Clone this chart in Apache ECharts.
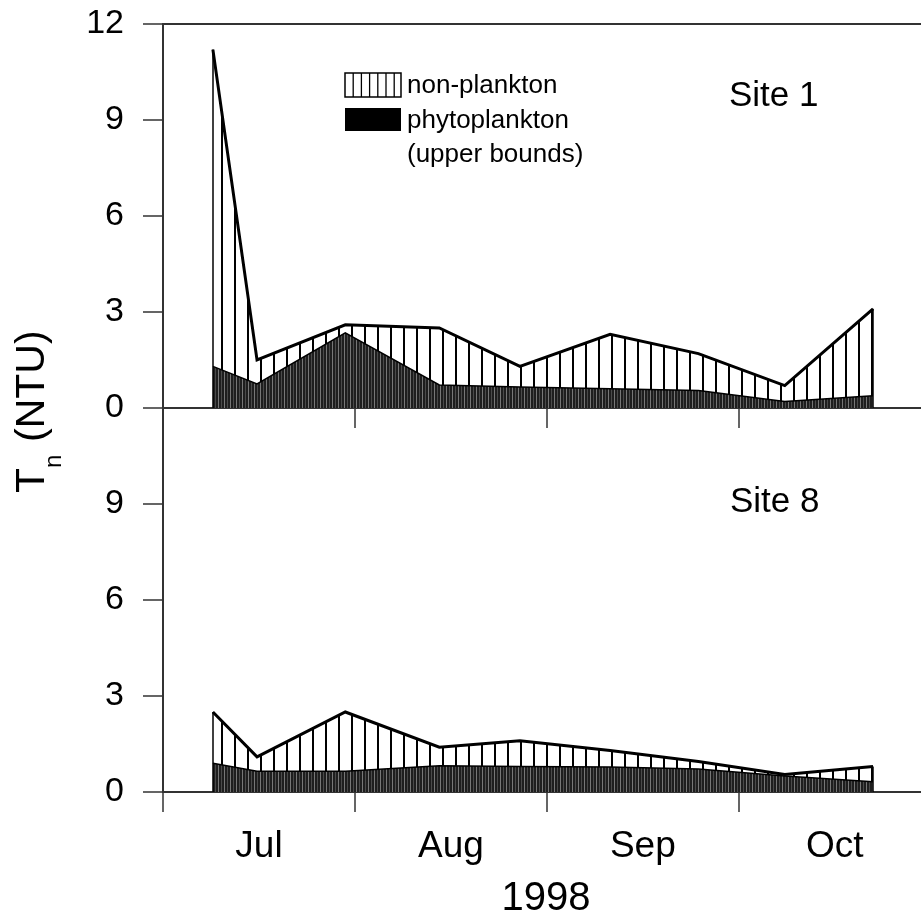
<!DOCTYPE html>
<html><head><meta charset="utf-8">
<script src="https://cdn.jsdelivr.net/npm/echarts@6/dist/echarts.min.js"></script>
<style>html,body{margin:0;padding:0;background:#fff}#c{width:921px;height:923px}</style>
</head><body><div id="c"></div>
<script>
// ---- data ----
const months = ['Jul', 'Aug', 'Sep', 'Oct'];
const monthStarts = [0, 1, 2, 3];  // tick positions, months since 1 Jul
const xMaxMonth = 3.95;            // axis runs from 1 Jul to ~29 Oct
const yMin = 0, yMax = 12, yStep = 3;
// sampling dates, expressed in months since 1 July 1998
const sampleMonth = [0.26, 0.49, 0.95, 1.44, 1.86, 2.33, 2.79, 3.24, 3.70];
const site1Total = [11.2, 1.5, 2.6, 2.5, 1.3, 2.3, 1.7, 0.7, 3.1];
const site1Phyto = [1.3, 0.75, 2.35, 0.72, 0.66, 0.6, 0.55, 0.2, 0.38];
const site8Total = [2.5, 1.1, 2.5, 1.4, 1.6, 1.3, 0.95, 0.55, 0.8];
const site8Phyto = [0.9, 0.65, 0.65, 0.82, 0.8, 0.78, 0.72, 0.5, 0.32];
const legendLabels = ['non-plankton', 'phytoplankton', '(upper bounds)'];
const panelLabels = ['Site 1', 'Site 8'];
const xTitle = '1998';

// ---- patterns ----
function hatchPattern() {
  const c = document.createElement('canvas'); c.width = 13; c.height = 8;
  const g = c.getContext('2d');
  g.fillStyle = '#fff'; g.fillRect(0, 0, 13, 8);
  g.fillStyle = '#000'; g.fillRect(0, 0, 2, 8);
  return c;
}
function darkPattern() {
  const c = document.createElement('canvas'); c.width = 6; c.height = 8;
  const g = c.getContext('2d');
  g.fillStyle = '#1e1e1e'; g.fillRect(0, 0, 6, 8);
  g.fillStyle = '#777'; g.fillRect(2, 0, 1, 8);
  g.fillStyle = '#4a4a4a'; g.fillRect(5, 0, 1, 8);
  return c;
}
const HATCH = { image: hatchPattern(), repeat: 'repeat' };
const DARK = { image: darkPattern(), repeat: 'repeat' };

const FONT = 'Liberation Sans, Arial, sans-serif';
const AX = '#333';

function pairs(xs, ys) { return xs.map((x, i) => [x, ys[i]]); }

function xAxisBottom(gi, showLabels) {
  return {
    type: 'value', gridIndex: gi, min: 0, max: xMaxMonth, interval: 1, position: 'bottom',
    axisLine: { show: true, onZero: false, lineStyle: { color: AX, width: 2 } },
    axisTick: { show: true, inside: false, length: 20, customValues: monthStarts, lineStyle: { color: AX, width: 1.5 } },
    axisLabel: {
      show: showLabels, margin: 36, fontSize: 37, color: '#000', fontFamily: FONT,
      customValues: monthStarts,
      padding: [0, 0, 0, 192], hideOverlap: false,
      formatter: v => (months[Math.round(v)] !== undefined && Math.abs(v - Math.round(v)) < 1e-6) ? months[Math.round(v)] : ''
    },
    splitLine: { show: false }
  };
}
function xAxisTop(gi) {
  return {
    type: 'value', gridIndex: gi, min: 0, max: xMaxMonth, position: 'top',
    axisLine: { show: true, onZero: false, lineStyle: { color: AX, width: 2 } },
    axisTick: { show: false }, axisLabel: { show: false }, splitLine: { show: false }
  };
}
function yAxis(gi, hideTop) {
  return {
    type: 'value', gridIndex: gi, min: yMin, max: yMax, interval: yStep,
    axisLine: { show: true, onZero: false, lineStyle: { color: AX, width: 2 } },
    axisTick: { show: true, inside: false, length: 20, lineStyle: { color: AX, width: 1.5 } },
    axisLabel: {
      margin: 39, fontSize: 34, color: '#000', fontFamily: FONT,
      formatter: v => (hideTop && v === yMax) ? '' : String(v)
    },
    splitLine: { show: false }
  };
}
function series(xi, yi, xs, ys, fill, lw, z, edges) {
  const s = {
    type: 'line', xAxisIndex: xi, yAxisIndex: yi, data: pairs(xs, ys),
    symbol: 'none', smooth: false, z: z, silent: true,
    lineStyle: { color: '#000', width: lw, join: 'miter' },
    areaStyle: { color: fill, opacity: 1, origin: 'start' }
  };
  if (edges) {
    const last = xs.length - 1;
    s.markLine = {
      silent: true, symbol: ['none', 'none'], label: { show: false },
      lineStyle: { color: '#000', width: 1.5, type: 'solid' },
      data: [
        [{ coord: [xs[0], 0] }, { coord: [xs[0], ys[0]] }],
        [{ coord: [xs[last], 0] }, { coord: [xs[last], ys[last]] }]
      ]
    };
  }
  return s;
}

const chart = echarts.init(document.getElementById('c'), null, { renderer: 'canvas' });
const legendLines = [];
for (let i = 1; i < 7; i++) {
  legendLines.push({ type: 'line', z: 11, shape: { x1: 345 + i * 8.2, y1: 73, x2: 345 + i * 8.2, y2: 97 },
    style: { stroke: '#000', lineWidth: 1.3 } });
}
chart.setOption({
  animation: false,
  backgroundColor: '#fff',
  grid: [
    { left: 163, top: 24, right: 0, height: 384, containLabel: false },
    { left: 163, top: 408, right: 0, height: 384, containLabel: false }
  ],
  xAxis: [xAxisBottom(0, false), xAxisTop(0), xAxisBottom(1, true)],
  yAxis: [yAxis(0, false), yAxis(1, true)],
  series: [
    series(0, 0, sampleMonth, site1Total, HATCH, 3, 2, true),
    series(0, 0, sampleMonth, site1Phyto, DARK, 1.5, 3, false),
    series(2, 1, sampleMonth, site8Total, HATCH, 3, 2, true),
    series(2, 1, sampleMonth, site8Phyto, DARK, 1.5, 3, false)
  ],
  graphic: [
    { type: 'rect', shape: { x: 345, y: 73, width: 56, height: 24 }, style: { fill: '#fff', stroke: '#000', lineWidth: 1.5 }, z: 10 },
    ...legendLines,
    { type: 'rect', shape: { x: 345, y: 108, width: 56, height: 23 }, style: { fill: '#000' }, z: 10 },
    { type: 'text', x: 407, y: 86, z: 10, style: { text: legendLabels[0], font: '26px ' + FONT, fill: '#000', textAlign: 'left', textVerticalAlign: 'middle' } },
    { type: 'text', x: 407, y: 121, z: 10, style: { text: legendLabels[1], font: '26px ' + FONT, fill: '#000', textAlign: 'left', textVerticalAlign: 'middle' } },
    { type: 'text', x: 407, y: 155, z: 10, style: { text: legendLabels[2], font: '26px ' + FONT, fill: '#000', textAlign: 'left', textVerticalAlign: 'middle' } },
    { type: 'text', x: 729, y: 96, z: 10, style: { text: panelLabels[0], font: '35px ' + FONT, fill: '#000', textAlign: 'left', textVerticalAlign: 'middle' } },
    { type: 'text', x: 730, y: 502, z: 10, style: { text: panelLabels[1], font: '35px ' + FONT, fill: '#000', textAlign: 'left', textVerticalAlign: 'middle' } },
    { type: 'text', x: 546, y: 899, z: 10, style: { text: xTitle, font: '40px ' + FONT, fill: '#000', textAlign: 'center', textVerticalAlign: 'middle' } },
    { type: 'text', x: 33, y: 493, rotation: Math.PI / 2, z: 10, style: { text: 'T', font: '41px ' + FONT, fill: '#000', textAlign: 'left', textVerticalAlign: 'middle' } },
    { type: 'text', x: 54, y: 468, rotation: Math.PI / 2, z: 10, style: { text: 'n', font: '24px ' + FONT, fill: '#000', textAlign: 'left', textVerticalAlign: 'middle' } },
    { type: 'text', x: 33, y: 442, rotation: Math.PI / 2, z: 10, style: { text: '(NTU)', font: '41px ' + FONT, fill: '#000', textAlign: 'left', textVerticalAlign: 'middle' } }
  ]
});
</script>
</body></html>
